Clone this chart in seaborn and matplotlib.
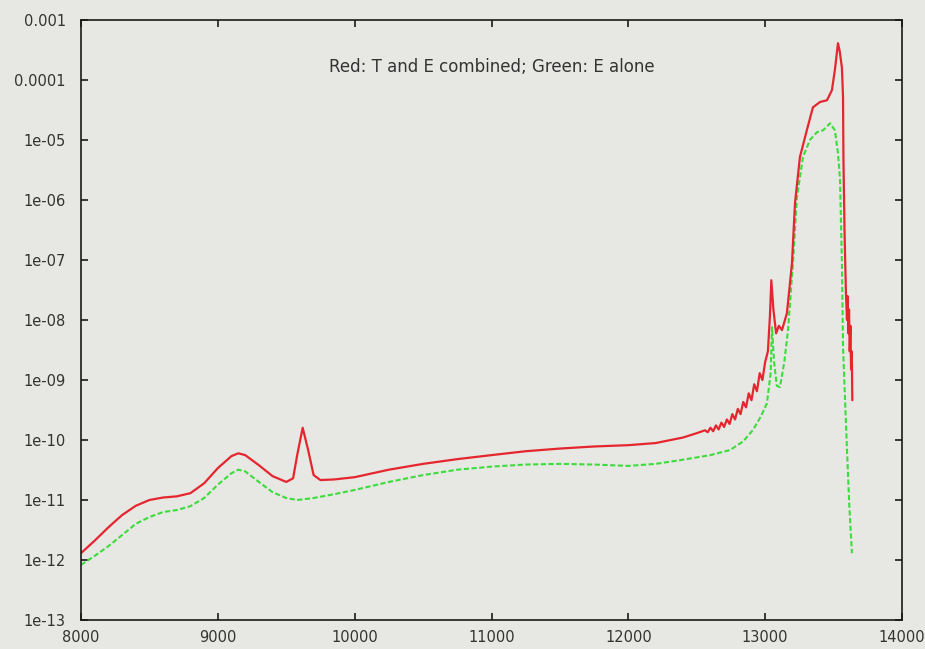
import matplotlib
matplotlib.use("Agg")
import matplotlib.pyplot as plt
import seaborn as sns
import pandas as pd

# Wavelength grid and intensities: T and E combined (red)
red_x = [8000, 8100, 8200, 8300, 8400, 8500, 8600, 8700, 8800, 8900,
         9000, 9100, 9150, 9200, 9300, 9400, 9500, 9550, 9580, 9620,
         9660, 9700, 9750, 9850, 10000, 10250, 10500, 10750, 11000, 11250,
         11500, 11750, 12000, 12200, 12400, 12500, 12560, 12580, 12600, 12620,
         12640, 12660, 12680, 12700, 12720, 12740, 12760, 12780, 12800, 12820,
         12840, 12860, 12880, 12900, 12920, 12940, 12960, 12980, 13000, 13020,
         13035, 13045, 13060, 13080, 13100, 13123, 13159, 13196, 13218, 13254,
         13306, 13349, 13401, 13452, 13488, 13510, 13532, 13545, 13561, 13569,
         13572, 13580, 13590, 13598, 13603, 13608, 13613, 13618, 13623, 13628,
         13633, 13637]
red_y = [1.3e-12, 2.1e-12, 3.5e-12, 5.6e-12, 8.0e-12, 1.0e-11, 1.1e-11, 1.15e-11, 1.3e-11, 1.9e-11,
         3.4e-11, 5.4e-11, 6.0e-11, 5.6e-11, 3.8e-11, 2.5e-11, 2.0e-11, 2.3e-11, 5.6e-11, 1.6e-10,
         6.8e-11, 2.6e-11, 2.15e-11, 2.2e-11, 2.4e-11, 3.2e-11, 4.0e-11, 4.8e-11, 5.6e-11, 6.5e-11,
         7.2e-11, 7.8e-11, 8.2e-11, 8.9e-11, 1.1e-10, 1.3e-10, 1.45e-10, 1.35e-10, 1.6e-10, 1.4e-10,
         1.75e-10, 1.5e-10, 1.95e-10, 1.65e-10, 2.2e-10, 1.85e-10, 2.7e-10, 2.2e-10, 3.3e-10, 2.7e-10,
         4.3e-10, 3.5e-10, 6.0e-10, 4.6e-10, 8.5e-10, 6.5e-10, 1.3e-9, 1.0e-9, 2.0e-9, 3.0e-9,
         1.2e-8, 4.6e-8, 1.5e-8, 6.0e-9, 8.0e-9, 6.8e-9, 1.3e-8, 8.9e-8, 8.9e-7, 5.2e-6,
         1.5e-5, 3.5e-5, 4.3e-5, 4.6e-5, 6.8e-5, 1.5e-4, 4.1e-4, 3.0e-4, 1.6e-4, 5.2e-5,
         5.0e-6, 3.0e-7, 3.0e-8, 1.0e-8, 2.5e-8, 6.0e-9, 1.5e-8, 3.0e-9, 8.0e-9, 1.5e-9,
         3.0e-9, 4.6e-10]

# E alone (green)
green_x = [8000, 8100, 8200, 8300, 8400, 8500, 8600, 8700, 8800, 8900,
           9000, 9100, 9150, 9200, 9300, 9400, 9500, 9580, 9700, 9850,
           10000, 10250, 10500, 10750, 11000, 11250, 11500, 11750, 12000, 12200,
           12400, 12600, 12743, 12840, 12911, 12970, 13013, 13040, 13050, 13065,
           13085, 13108, 13140, 13167, 13203, 13232, 13276, 13327, 13379, 13423,
           13474, 13510, 13532, 13547, 13561, 13569, 13598, 13615, 13634]
green_y = [8.3e-13, 1.17e-12, 1.7e-12, 2.6e-12, 4.0e-12, 5.2e-12, 6.3e-12, 6.8e-12, 7.9e-12, 1.08e-11,
           1.8e-11, 2.8e-11, 3.2e-11, 3.0e-11, 2.0e-11, 1.35e-11, 1.08e-11, 1.0e-11, 1.08e-11, 1.25e-11,
           1.47e-11, 2.0e-11, 2.6e-11, 3.2e-11, 3.6e-11, 3.9e-11, 4.0e-11, 3.9e-11, 3.7e-11, 4.0e-11,
           4.7e-11, 5.6e-11, 6.8e-11, 9.5e-11, 1.47e-10, 2.5e-10, 4.1e-10, 1.3e-9, 7.6e-9, 2.0e-9,
           8.0e-10, 7.6e-10, 2.0e-9, 6.8e-9, 8.9e-8, 1.1e-6, 5.2e-6, 1.0e-5, 1.35e-5, 1.45e-5,
           1.9e-5, 1.45e-5, 6.0e-6, 2.2e-6, 8.9e-8, 3.5e-9, 6.8e-11, 8.0e-12, 1.3e-12]

x_ticks = [8000, 9000, 10000, 11000, 12000, 13000, 14000]
y_ticks = [1e-13, 1e-12, 1e-11, 1e-10, 1e-9, 1e-8, 1e-7, 1e-6, 1e-5, 1e-4, 1e-3]
y_tick_labels = ["1e-13", "1e-12", "1e-11", "1e-10", "1e-09", "1e-08",
                 "1e-07", "1e-06", "1e-05", "0.0001", "0.001"]
note = "Red: T and E combined; Green: E alone"

bg = "#e7e7e3"
sns.set_style("ticks", {"axes.facecolor": bg, "figure.facecolor": bg,
                        "axes.edgecolor": "#1a1a1a"})
plt.rcParams["font.family"] = ["DejaVu Sans"]

fig = plt.figure(figsize=(9.25, 6.49), dpi=100)
ax = fig.add_axes([81 / 925, 29 / 649, 821 / 925, 600 / 649])

red_df = pd.DataFrame({"x": red_x, "y": red_y})
green_df = pd.DataFrame({"x": green_x, "y": green_y})

sns.lineplot(data=green_df, x="x", y="y", ax=ax, sort=False, estimator=None,
             color="#3cdc3c", linewidth=1.5, linestyle=(0, (2.5, 1.2)))
sns.lineplot(data=red_df, x="x", y="y", ax=ax, sort=False, estimator=None,
             color="#e5262f", linewidth=1.6)

ax.set_yscale("log")
ax.set_xlim(8000, 14000)
ax.set_ylim(1e-13, 1e-3)
ax.set_xticks(x_ticks)
ax.set_xticklabels([str(t) for t in x_ticks])
ax.set_yticks(y_ticks)
ax.set_yticklabels(y_tick_labels)
ax.minorticks_off()
ax.tick_params(which="major", direction="in", length=5, width=1.2,
               top=True, right=True, labelsize=10.5, labelcolor="#333333",
               color="#1a1a1a")
ax.tick_params(axis="x", pad=7)
ax.tick_params(axis="y", pad=11)
for side in ax.spines.values():
    side.set_linewidth(1.2)
ax.set_xlabel("")
ax.set_ylabel("")

ax.text(0.5, 0.922, note, transform=ax.transAxes, ha="center", va="center",
        fontsize=12, color="#333333")

fig.savefig("out.png", dpi=100, facecolor=bg)
